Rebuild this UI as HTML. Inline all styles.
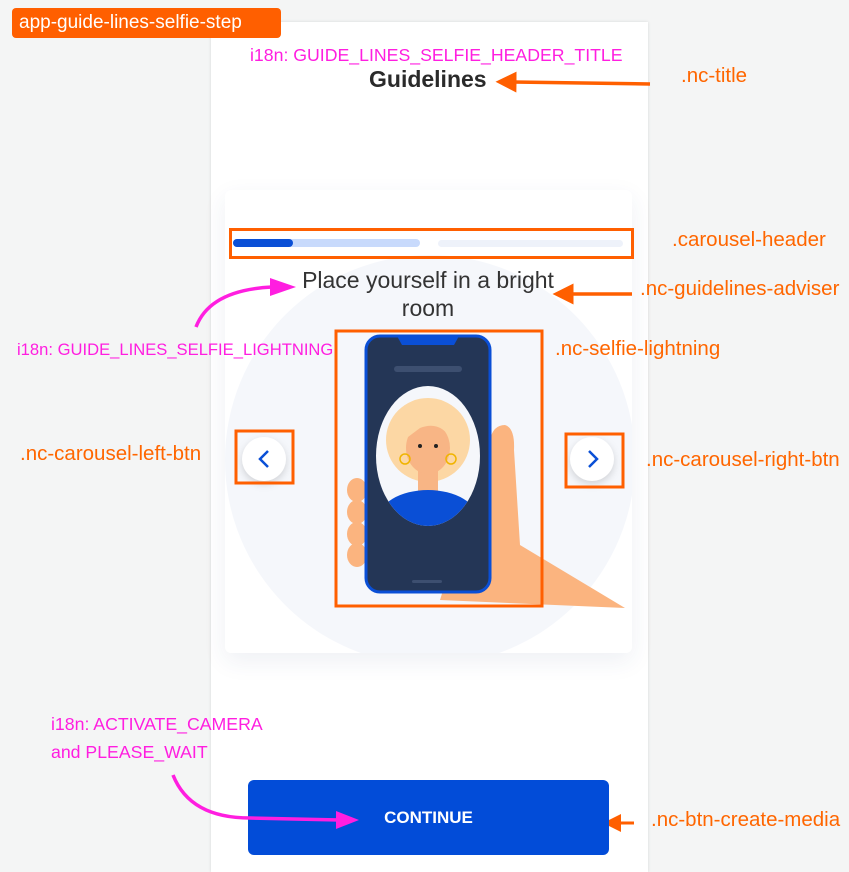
<!DOCTYPE html>
<html><head><meta charset="utf-8"><style>
body{margin:0;width:849px;height:862px;background:#f4f5f5;position:relative;overflow:hidden;font-family:"Liberation Sans",sans-serif}
.a{position:absolute;white-space:nowrap}
.o{color:#ff6600;font-size:20.5px}
</style></head><body>
<div class="a" style="left:211px;top:22px;width:437px;height:850px;background:#fff;box-shadow:0 0 3px rgba(0,0,0,0.12)"></div>
<div class="a" style="left:225px;top:190px;width:407px;height:463px;background:#fff;border-radius:6px;box-shadow:0 8px 24px rgba(40,60,120,0.08);overflow:hidden">
 <div class="a" style="left:0px;top:65px;width:410px;height:410px;border-radius:50%;background:#f5f7fb"></div>
</div>
<div class="a" style="left:12px;top:8px;width:269px;height:30px;background:#ff5f00;border-radius:4px;color:#fff;font-size:19px;line-height:30px;padding-left:7px;box-sizing:border-box">app-guide-lines-selfie-step</div>
<div class="a" style="left:250px;top:45px;color:#ff1ee0;font-size:17.7px">i18n: GUIDE_LINES_SELFIE_HEADER_TITLE</div>
<div class="a" style="left:369px;top:66px;color:#2a2a2a;font-size:23px;font-weight:bold">Guidelines</div>
<div class="a o" style="left:681px;top:64px">.nc-title</div>
<div class="a" style="left:233px;top:239px;width:187px;height:8px;border-radius:4px;background:#c8dafc"></div>
<div class="a" style="left:233px;top:239px;width:60px;height:8px;border-radius:4px;background:#0a4fd6"></div>
<div class="a" style="left:438px;top:240px;width:185px;height:7px;border-radius:4px;background:#eef2fa"></div>
<div class="a" style="left:229px;top:228px;width:405px;height:31px;border:3px solid #ff5f00;box-sizing:border-box"></div>
<div class="a o" style="left:672px;top:228px">.carousel-header</div>
<div class="a" style="left:280px;top:266px;width:296px;text-align:center;color:#333;font-size:23px;line-height:28px;white-space:normal">Place yourself in a bright room</div>
<div class="a o" style="left:640px;top:277px">.nc-guidelines-adviser</div>
<div class="a" style="left:17px;top:340px;color:#ff1ee0;font-size:16.6px">i18n: GUIDE_LINES_SELFIE_LIGHTNING</div>
<div class="a o" style="left:555px;top:337px">.nc-selfie-lightning</div>
<div class="a o" style="left:20px;top:442px">.nc-carousel-left-btn</div>
<div class="a o" style="left:646px;top:448px">.nc-carousel-right-btn</div>
<svg class="a" style="left:0;top:0" width="849" height="862">
 <defs><marker id="o" markerWidth="6" markerHeight="6" refX="1" refY="3" orient="auto"><path d="M0,0L6,3L0,6z" fill="#ff5f00"/></marker></defs>
 <path d="M490,440 Q493,425 505,425 Q515,428 514,450 L520,545 L625,608 L440,600 Z" fill="#fbb47f"/>
 <g fill="#fbb47f"><ellipse cx="357" cy="490" rx="10" ry="12"/><ellipse cx="357" cy="512" rx="10" ry="12"/><ellipse cx="357" cy="534" rx="10" ry="12"/><ellipse cx="357" cy="555" rx="10" ry="12"/></g>
 <rect x="366" y="336" width="124" height="256" rx="14" fill="#243656" stroke="#0a4fd6" stroke-width="3"/>
 <path d="M397,336 h62 l-5,9 h-52z" fill="#0a4fd6"/>
 <rect x="394" y="366" width="68" height="6" rx="3" fill="#3d4f70"/>
 <rect x="412" y="580" width="30" height="3" rx="1.5" fill="#3d4f70"/>
 <clipPath id="c"><ellipse cx="428" cy="456" rx="52" ry="70"/></clipPath>
 <ellipse cx="428" cy="456" rx="52" ry="70" fill="#f5f7fb"/>
 <g clip-path="url(#c)">
  <ellipse cx="428" cy="440" rx="42" ry="42" fill="#fcd7a4"/>
  <rect x="418" y="470" width="20" height="25" fill="#f8b585"/>
  <ellipse cx="428" cy="520" rx="50" ry="30" fill="#0a4fd6"/>
  <ellipse cx="428" cy="448" rx="22" ry="26" fill="#f8b585"/>
  <path d="M404,440 Q410,410 430,412 Q450,412 452,440 Q440,420 420,428z" fill="#fcd7a4"/>
 </g>
 <circle cx="420" cy="446" r="2" fill="#222"/><circle cx="436" cy="446" r="2" fill="#222"/>
 <circle cx="405" cy="459" r="5" fill="none" stroke="#f0b400" stroke-width="1.5"/><circle cx="451" cy="459" r="5" fill="none" stroke="#f0b400" stroke-width="1.5"/>
 <rect x="336" y="331" width="206" height="275" fill="none" stroke="#ff5f00" stroke-width="3"/>
 <circle cx="264" cy="459" r="22" fill="#fff" style="filter:drop-shadow(0 3px 4px rgba(0,0,0,.15))"/>
 <path d="M268,451 l-8,8 8,8" stroke="#0a4fd6" stroke-width="2.5" fill="none"/>
 <circle cx="592" cy="459" r="22" fill="#fff" style="filter:drop-shadow(0 3px 4px rgba(0,0,0,.15))"/>
 <path d="M589,451 l8,8 -8,8" stroke="#0a4fd6" stroke-width="2.5" fill="none"/>
 <rect x="236" y="431" width="57" height="52" fill="none" stroke="#ff5f00" stroke-width="3"/>
 <rect x="566" y="434" width="57" height="53" fill="none" stroke="#ff5f00" stroke-width="3"/>
 <line x1="650" y1="84" x2="513" y2="82" stroke="#ff5f00" stroke-width="3.5" marker-end="url(#o)"/>
 <line x1="632" y1="294" x2="570" y2="294" stroke="#ff5f00" stroke-width="3.5" marker-end="url(#o)"/>
 <line x1="634" y1="823" x2="618" y2="823" stroke="#ff5f00" stroke-width="3" marker-end="url(#o)"/>
 <path d="M196,327 Q210,290 272,287" stroke="#ff1ee0" stroke-width="3.5" fill="none"/>
 <path d="M270,278 L296,287 L270,296z" fill="#ff1ee0"/>
</svg>
<div class="a" style="left:248px;top:780px;width:361px;height:75px;background:#024cd8;border-radius:6px;color:#fff;font-size:17px;font-weight:bold;text-align:center;line-height:75px">CONTINUE</div>
<svg class="a" style="left:0;top:0" width="849" height="862">
 <path d="M173,775 Q190,818 250,818 L340,820" stroke="#ff1ee0" stroke-width="3.5" fill="none"/>
 <path d="M336,811 L359,820 L336,829z" fill="#ff1ee0"/>
</svg>
<div class="a" style="left:51px;top:710px;color:#ff1ee0;font-size:17.7px;line-height:28px">i18n: ACTIVATE_CAMERA<br>and PLEASE_WAIT</div>
<div class="a o" style="left:651px;top:808px">.nc-btn-create-media</div>
</body></html>
